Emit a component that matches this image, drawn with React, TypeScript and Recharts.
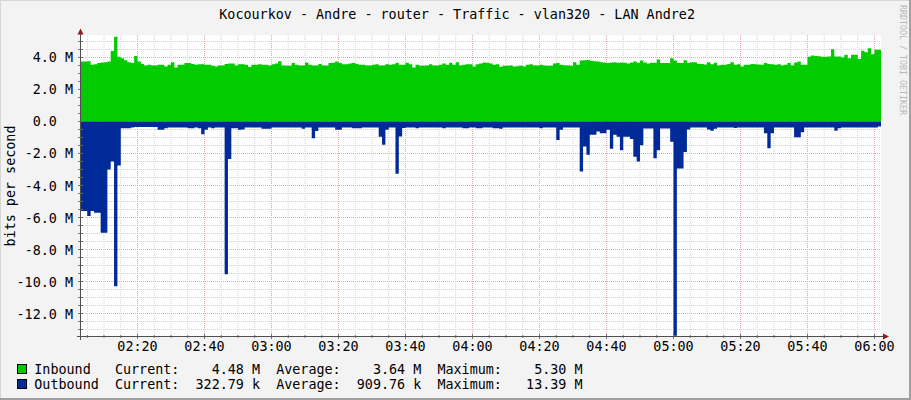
import React from 'react';
import { ComposedChart, Area, XAxis, YAxis, CartesianGrid, ReferenceLine } from 'recharts';

// ---- data (1-minute samples starting 02:03, values in Mbit/s) ----
const startMinute = 123; // 02:03
const stepMinutes = 1;

const inboundM = [
  3.75, 3.75, 3.77, 3.54, 3.58, 3.65, 3.69, 3.71, 3.75, 4.40,
  5.30, 4.05, 3.96, 3.83, 3.71, 3.65, 4.10, 3.75, 3.60, 3.50,
  3.54, 3.50, 3.50, 3.54, 3.54, 3.44, 3.54, 3.71, 3.38, 3.54,
  3.54, 3.65, 3.65, 3.60, 3.54, 3.58, 3.58, 3.54, 3.54, 3.48,
  3.44, 3.50, 3.50, 3.60, 3.62, 3.62, 3.50, 3.58, 3.58, 3.54,
  3.40, 3.54, 3.54, 3.58, 3.54, 3.54, 3.50, 3.58, 3.62, 3.77,
  3.50, 3.48, 3.48, 3.65, 3.54, 3.50, 3.50, 3.69, 3.54, 3.50,
  3.50, 3.60, 3.50, 3.50, 3.65, 3.67, 3.75, 3.65, 3.58, 3.58,
  3.62, 3.65, 3.60, 3.54, 3.54, 3.50, 3.50, 3.54, 3.58, 3.50,
  3.50, 3.58, 3.54, 3.58, 3.67, 3.54, 3.54, 3.67, 3.58, 3.38,
  3.54, 3.48, 3.48, 3.50, 3.58, 3.50, 3.50, 3.54, 3.62, 3.54,
  3.67, 3.54, 3.71, 3.50, 3.54, 3.58, 3.58, 3.44, 3.58, 3.62,
  3.69, 3.67, 3.62, 3.54, 3.58, 3.42, 3.48, 3.48, 3.50, 3.44,
  3.46, 3.48, 3.44, 3.54, 3.58, 3.50, 3.50, 3.54, 3.50, 3.48,
  3.48, 3.62, 3.65, 3.54, 3.52, 3.50, 3.48, 3.71, 3.54, 3.81,
  3.83, 3.85, 3.79, 3.77, 3.75, 3.71, 3.69, 3.65, 3.69, 3.71,
  3.67, 3.69, 3.67, 3.62, 3.69, 3.75, 3.67, 3.81, 3.69, 3.62,
  3.67, 3.67, 3.88, 3.65, 3.65, 3.65, 3.96, 3.81, 3.65, 3.65,
  3.83, 3.65, 3.71, 3.71, 3.60, 3.60, 3.56, 3.71, 3.58, 3.67,
  3.50, 3.54, 3.54, 3.60, 3.71, 3.54, 3.58, 3.44, 3.54, 3.54,
  3.60, 3.58, 3.56, 3.54, 3.65, 3.60, 3.58, 3.54, 3.58, 3.50,
  3.54, 3.65, 3.50, 3.69, 3.75, 3.54, 3.54, 4.04, 4.12, 4.10,
  4.08, 4.04, 4.04, 4.06, 4.52, 4.06, 4.06, 4.00, 4.17, 3.96,
  4.17, 4.17, 3.90, 4.42, 4.33, 4.58, 4.20, 4.48, 4.48, 4.48,
];

const outboundM = [
  5.6, 5.6, 5.9, 5.6, 5.7, 5.7, 6.96, 6.96, 3.0, 2.5,
  10.3, 2.75, 0.42, 0.42, 0.42, 0.38, 0.35, 0.35, 0.35, 0.35,
  0.35, 0.35, 0.35, 0.52, 0.52, 0.42, 0.375, 0.375, 0.375, 0.375,
  0.375, 0.375, 0.42, 0.42, 0.375, 0.42, 0.79, 0.52, 0.375, 0.42,
  0.375, 0.375, 0.375, 9.55, 2.35, 0.42, 0.42, 0.52, 0.5, 0.375,
  0.375, 0.375, 0.375, 0.375, 0.46, 0.46, 0.46, 0.375, 0.375, 0.375,
  0.375, 0.375, 0.375, 0.375, 0.375, 0.375, 0.46, 0.375, 0.375, 1.04,
  0.6, 0.375, 0.375, 0.375, 0.375, 0.375, 0.52, 0.52, 0.375, 0.375,
  0.375, 0.42, 0.42, 0.42, 0.375, 0.375, 0.375, 0.375, 0.375, 0.96,
  1.46, 0.52, 0.375, 0.375, 3.27, 0.94, 0.4, 0.375, 0.375, 0.375,
  0.42, 0.375, 0.375, 0.375, 0.375, 0.375, 0.375, 0.375, 0.42, 0.375,
  0.375, 0.375, 0.375, 0.375, 0.42, 0.42, 0.375, 0.375, 0.42, 0.42,
  0.375, 0.375, 0.375, 0.42, 0.42, 0.46, 0.375, 0.375, 0.375, 0.375,
  0.375, 0.375, 0.375, 0.375, 0.375, 0.375, 0.375, 0.42, 0.375, 0.375,
  0.375, 0.375, 1.15, 0.52, 0.375, 0.375, 0.375, 0.375, 0.375, 3.13,
  1.56, 2.08, 0.83, 0.83, 0.62, 0.73, 0.73, 0.52, 1.71, 0.83,
  0.96, 1.79, 0.96, 0.96, 1.1, 2.2, 2.5, 1.48, 0.44, 0.44,
  0.44, 2.3, 1.8, 0.44, 0.44, 0.44, 1.27, 13.39, 2.94, 2.94,
  1.9, 0.5, 0.37, 0.37, 0.37, 0.37, 0.37, 0.5, 0.58, 0.45,
  0.375, 0.375, 0.375, 0.375, 0.375, 0.4, 0.375, 0.375, 0.375, 0.375,
  0.375, 0.375, 0.375, 0.375, 0.73, 1.67, 0.73, 0.375, 0.375, 0.375,
  0.375, 0.375, 0.375, 0.98, 0.98, 0.67, 0.375, 0.375, 0.375, 0.375,
  0.375, 0.375, 0.375, 0.375, 0.375, 0.58, 0.42, 0.375, 0.375, 0.375,
  0.375, 0.375, 0.375, 0.375, 0.375, 0.375, 0.375, 0.375, 0.32, 0.32,
];

// minutes since midnight, every 5 minutes (labels every 20)
const xTicks = [
  125, 130, 135, 140, 145, 150, 155, 160, 165, 170, 175, 180,
  185, 190, 195, 200, 205, 210, 215, 220, 225, 230, 235, 240,
  245, 250, 255, 260, 265, 270, 275, 280, 285, 290, 295, 300,
  305, 310, 315, 320, 325, 330, 335, 340, 345, 350, 355, 360,
];
const xLabelEvery = 20;

// Mbit/s, every 0.5 (labels every 2)
const yTicks = [
  -13, -12.5, -12, -11.5, -11, -10.5, -10, -9.5, -9, -8.5, -8, -7.5, -7, -6.5,
  -6, -5.5, -5, -4.5, -4, -3.5, -3, -2.5, -2, -1.5, -1, -0.5, 0, 0.5, 1, 1.5,
  2, 2.5, 3, 3.5, 4, 4.5, 5,
];
const yLabelEvery = 2;

const xDomain = [123.13, 361.94];
const yDomain = [-13.406, 5.406];

const title = 'Kocourkov - Andre - router - Traffic - vlan320 - LAN Andre2';
const yAxisTitle = 'bits per second';
const watermark = 'RRDTOOL / TOBI OETIKER';

const legendRows = [
  { name: 'Inbound', color: '#00CC00', current: '4.48 M', average: '3.64 M', maximum: '5.30 M' },
  { name: 'Outbound', color: '#002A97', current: '322.79 k', average: '909.76 k', maximum: '13.39 M' },
];

const tableData = inboundM.map((v, i) => ({
  t: startMinute + i * stepMinutes,
  inb: v,
  outb: -outboundM[i],
}));

const FONT = "'DejaVu Sans Mono', monospace";
const FS = 13.4;
const MAJOR = '#EBA5A5';
const MINOR = '#D2D2D2';

const isMultiple = (v: number, m: number) => Math.abs(v / m - Math.round(v / m)) < 1e-9;
const pad2 = (n: number) => (n < 10 ? '0' : '') + n;
const fmtTime = (m: number) => `${pad2(Math.floor(m / 60))}:${pad2(m % 60)}`;
const fmtY = (v: number) => (v === 0 ? '0.0  ' : `${v.toFixed(1)} M`);

const YTick = (props: any) => {
  const { x, y, payload } = props;
  const v = payload.value as number;
  const axisX = x + 8;
  const major = isMultiple(v, yLabelEvery);
  return (
    <g>
      <line x1={axisX - 3} x2={axisX + 2} y1={y} y2={y} stroke="#777" strokeWidth={1} />
      {major && (
        <text x={x} y={y + 5} textAnchor="end" fontFamily={FONT} fontSize={FS} fill="#000" style={{ whiteSpace: 'pre' }}>
          {fmtY(v)}
        </text>
      )}
    </g>
  );
};

const XTick = (props: any) => {
  const { x, y, payload } = props;
  const v = payload.value as number;
  const axisY = y - 8;
  const major = isMultiple(v, xLabelEvery);
  return (
    <g>
      <line x1={x} x2={x} y1={axisY - (major ? 2 : 1)} y2={axisY + (major ? 3 : 2)} stroke="#777" strokeWidth={1} />
      {major && (
        <text x={x} y={axisY + 15} textAnchor="middle" fontFamily={FONT} fontSize={FS} fill="#000">
          {fmtTime(v)}
        </text>
      )}
    </g>
  );
};

const legendLine = (r: typeof legendRows[number]) =>
  `${r.name.padEnd(10)}Current:${r.current.padStart(10)}  Average:${r.average.padStart(10)}  Maximum:${r.maximum.padStart(10)}`;

export default function App() {
  return (
    <div style={{ position: 'absolute', left: 0, top: 0, width: 911, height: 400, background: '#F3F3F3', overflow: 'hidden' }}>
      <ComposedChart
        width={911}
        height={400}
        data={tableData}
        margin={{ top: 35, right: 30, bottom: 0, left: 0 }}
      >
        <CartesianGrid fill="#FFFFFF" horizontal={false} vertical={false} stroke="none" />
        {yTicks.map((v) => (
          <ReferenceLine
            key={'h' + v}
            y={v}
            stroke={isMultiple(v, yLabelEvery) ? MAJOR : MINOR}
            strokeDasharray="1 1"
            strokeWidth={1}
            zIndex={-50}
          />
        ))}
        {xTicks.map((v) => (
          <ReferenceLine
            key={'v' + v}
            x={v}
            stroke={isMultiple(v, xLabelEvery) ? MAJOR : MINOR}
            strokeDasharray="1 1"
            strokeWidth={1}
            zIndex={-50}
          />
        ))}
        <Area
          type="stepAfter"
          dataKey="inb"
          stroke="none"
          fill="#00CC00"
          fillOpacity={1}
          baseValue={0}
          isAnimationActive={false}
          dot={false}
          activeDot={false}
        />
        <Area
          type="stepAfter"
          dataKey="outb"
          stroke="none"
          fill="#002A97"
          fillOpacity={1}
          baseValue={0}
          isAnimationActive={false}
          dot={false}
          activeDot={false}
        />
        <XAxis
          dataKey="t"
          type="number"
          domain={xDomain}
          allowDataOverflow
          ticks={xTicks}
          interval={0}
          height={64}
          axisLine={false}
          tickLine={false}
          tickSize={6}
          tickMargin={2}
          tick={<XTick />}
        />
        <YAxis
          type="number"
          domain={yDomain}
          allowDataOverflow
          ticks={yTicks}
          interval={0}
          width={81}
          axisLine={false}
          tickLine={false}
          tickSize={6}
          tickMargin={2}
          tick={<YTick />}
        />
      </ComposedChart>
      <svg
        width={911}
        height={400}
        style={{ position: 'absolute', left: 0, top: 0, pointerEvents: 'none' }}
      >
        {/* frame */}
        <line x1={0} y1={0.5} x2={911} y2={0.5} stroke="#D6D6D6" />
        <line x1={0.5} y1={0} x2={0.5} y2={400} stroke="#D6D6D6" />
        <line x1={0} y1={398.5} x2={911} y2={398.5} stroke="#A0A0A0" />
        <line x1={0} y1={399.5} x2={911} y2={399.5} stroke="#A0A0A0" />
        <line x1={909.5} y1={0} x2={909.5} y2={400} stroke="#A0A0A0" />
        <line x1={910.5} y1={0} x2={910.5} y2={400} stroke="#A0A0A0" />
        {/* axes */}
        <line x1={80.5} y1={33} x2={80.5} y2={340} stroke="#505050" />
        <line x1={77} y1={336.5} x2={884} y2={336.5} stroke="#505050" />
        <polygon points="77.5,34.5 83.5,34.5 80.5,28.5" fill="#8B1C1C" />
        <polygon points="883,333.5 883,339.5 889,336.5" fill="#8B1C1C" />
        {/* title */}
        <text x={219.3} y={19} fontFamily={FONT} fontSize={FS} fill="#000" style={{ whiteSpace: 'pre' }}>
          {title}
        </text>
        {/* y axis title */}
        <text
          x={15}
          y={186}
          transform="rotate(-90 15 186)"
          textAnchor="middle"
          fontFamily={FONT}
          fontSize={FS}
          fill="#000"
        >
          {yAxisTitle}
        </text>
        {/* watermark */}
        <text
          x={899.5}
          y={5}
          transform="rotate(90 899.5 5)"
          fontFamily={FONT}
          fontSize={8.3}
          fill="#B8B8B8"
        >
          {watermark}
        </text>
        {/* legend */}
        {legendRows.map((r, i) => (
          <g key={r.name}>
            <rect x={17.5} y={364.5 + i * 15} width={9} height={9} fill={r.color} stroke="#000" strokeWidth={1} />
            <text x={34.3} y={373.5 + i * 15} fontFamily={FONT} fontSize={FS} fill="#000" style={{ whiteSpace: 'pre' }}>
              {legendLine(r)}
            </text>
          </g>
        ))}
      </svg>
    </div>
  );
}
